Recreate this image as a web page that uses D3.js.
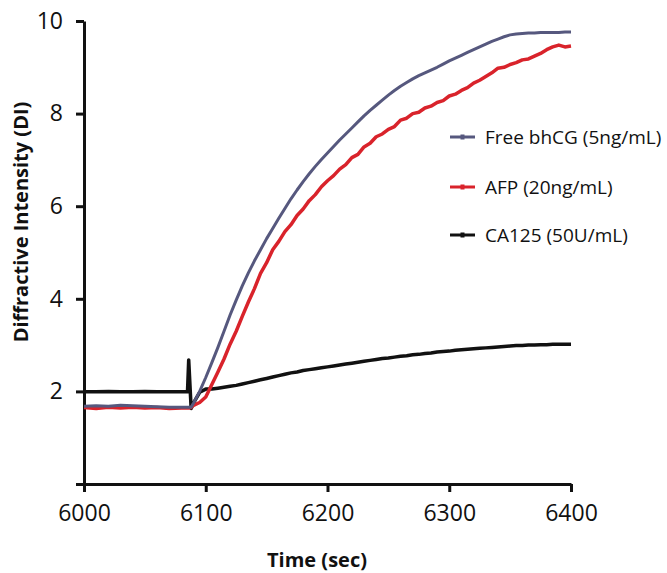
<!DOCTYPE html>
<meta charset="utf-8" />
<title>Diffractive Intensity vs Time - D3.js</title>
<style>
  body { margin: 0; background: #fff; }
  svg { display: block; background: #fff; }
  text { font-family: "Open Sans", sans-serif; fill: #111; }
  .axis path, .axis line { stroke: #111; stroke-width: 3px; }
  .axis text { font-size: 23px; }
  .axis-title { font-size: 20px; font-weight: bold; }
  .legend text { font-size: 19px; }
  .series { fill: none; stroke-linejoin: round; stroke-linecap: butt; }
</style>
<body>
<svg width="667" height="573"></svg>
<script src="https://d3js.org/d3.v7.min.js"></script>
<script>
const width = 667, height = 573;
const svg = d3.select("svg");

// time points (sec), shared by the three series
const time = [6000, 6010, 6020, 6030, 6040, 6050, 6060, 6070, 6080, 6085, 6086, 6088,
  6090, 6095, 6100, 6105, 6110, 6115, 6120, 6125, 6130, 6135, 6140, 6145, 6150,
  6155, 6160, 6165, 6170, 6175, 6180, 6185, 6190, 6195, 6200, 6205, 6210, 6215,
  6220, 6225, 6230, 6235, 6240, 6245, 6250, 6255, 6260, 6265, 6270, 6275, 6280,
  6285, 6290, 6295, 6300, 6305, 6310, 6315, 6320, 6325, 6330, 6335, 6340, 6345,
  6350, 6355, 6360, 6365, 6370, 6375, 6380, 6385, 6390, 6395, 6400];

// Free bhCG (5ng/mL)
const bhcg = [1.68, 1.69, 1.68, 1.70, 1.69, 1.68, 1.67, 1.66, 1.66, 1.66, 1.66, 1.66,
  1.75, 2.00, 2.30, 2.62, 2.95, 3.30, 3.65, 3.97, 4.28, 4.56, 4.82, 5.06, 5.30,
  5.52, 5.74, 5.95, 6.16, 6.35, 6.53, 6.70, 6.86, 7.01, 7.15, 7.29, 7.43, 7.56,
  7.69, 7.82, 7.95, 8.07, 8.18, 8.29, 8.40, 8.50, 8.59, 8.67, 8.75, 8.82, 8.88,
  8.94, 9.00, 9.07, 9.14, 9.20, 9.26, 9.32, 9.38, 9.44, 9.50, 9.56, 9.61, 9.66,
  9.70, 9.72, 9.73, 9.74, 9.74, 9.75, 9.75, 9.75, 9.75, 9.76, 9.76];

// AFP (20ng/mL)
const afp = [1.65, 1.63, 1.66, 1.64, 1.66, 1.64, 1.65, 1.63, 1.64, 1.64, 1.64, 1.65,
  1.70, 1.76, 1.88, 2.15, 2.42, 2.70, 3.02, 3.30, 3.62, 3.93, 4.22, 4.55, 4.78,
  5.06, 5.24, 5.45, 5.60, 5.80, 5.94, 6.12, 6.25, 6.42, 6.55, 6.66, 6.80, 6.90,
  7.05, 7.12, 7.28, 7.36, 7.50, 7.56, 7.66, 7.72, 7.86, 7.90, 8.00, 8.03, 8.12,
  8.16, 8.24, 8.28, 8.38, 8.42, 8.50, 8.56, 8.66, 8.72, 8.80, 8.88, 8.98, 9.00,
  9.06, 9.10, 9.16, 9.18, 9.24, 9.30, 9.38, 9.44, 9.48, 9.44, 9.46];

// CA125 (50U/mL)
const ca125 = [1.99, 1.99, 2.00, 1.99, 1.99, 2.00, 1.99, 1.99, 1.99, 1.99, 2.68, 1.63,
  1.75, 1.98, 2.05, 2.05, 2.07, 2.09, 2.11, 2.13, 2.16, 2.19, 2.22, 2.25, 2.28,
  2.31, 2.34, 2.37, 2.40, 2.42, 2.45, 2.47, 2.49, 2.51, 2.53, 2.55, 2.57, 2.59,
  2.61, 2.63, 2.65, 2.67, 2.69, 2.71, 2.72, 2.74, 2.76, 2.77, 2.79, 2.80, 2.82,
  2.83, 2.85, 2.86, 2.87, 2.89, 2.90, 2.91, 2.92, 2.93, 2.94, 2.95, 2.96, 2.97,
  2.98, 2.99, 2.99, 3.00, 3.00, 3.01, 3.01, 3.02, 3.02, 3.02, 3.02];

const xTicks = [6000, 6100, 6200, 6300, 6400];
const yTicks = [0, 2, 4, 6, 8, 10];

const series = [
  { name: "CA125 (50U/mL)", values: ca125, color: "#111111", width: 3.5 },
  { name: "AFP (20ng/mL)", values: afp, color: "#d9232b", width: 3.5 },
  { name: "Free bhCG (5ng/mL)", values: bhcg, color: "#56587e", width: 3 }
];
const legendOrder = ["Free bhCG (5ng/mL)", "AFP (20ng/mL)", "CA125 (50U/mL)"];

const x = d3.scaleLinear().domain([6000, 6400]).range([84, 571]);
const y = d3.scaleLinear().domain([0, 10]).range([484, 21]);

// axes
svg.append("g")
  .attr("class", "axis")
  .attr("transform", `translate(0,${y(0)})`)
  .call(d3.axisBottom(x).tickValues(xTicks).tickSize(8).tickSizeOuter(0).tickPadding(13).tickFormat(d3.format("d")));

svg.append("g")
  .attr("class", "axis")
  .attr("transform", `translate(${x(6000)},0)`)
  .call(d3.axisLeft(y).tickValues(yTicks).tickSize(8).tickSizeOuter(0).tickPadding(13)
    .tickFormat(d => d === 0 ? "" : d));

// lines
const line = d3.line()
  .x((d, i) => x(time[i]))
  .y(d => y(d));

svg.append("g").selectAll("path")
  .data(series).join("path")
  .attr("class", "series")
  .attr("stroke", d => d.color)
  .attr("stroke-width", d => d.width)
  .attr("d", d => line(d.values));

// legend
const legend = svg.append("g").attr("class", "legend")
  .selectAll("g")
  .data(legendOrder.map(n => series.find(s => s.name === n)))
  .join("g")
  .attr("transform", (d, i) => `translate(450,${[137, 187, 235][i]})`);

legend.append("line")
  .attr("x1", 0).attr("x2", 25)
  .attr("stroke", d => d.color)
  .attr("stroke-width", 3);

legend.append("rect")
  .attr("x", 10.5).attr("y", -2.5).attr("width", 4).attr("height", 5)
  .attr("fill", d => d.color);

legend.append("text")
  .attr("x", 35)
  .attr("dy", "0.35em")
  .text(d => d.name);

// axis titles
svg.append("text")
  .attr("class", "axis-title")
  .attr("text-anchor", "middle")
  .attr("x", 317).attr("y", 567)
  .text("Time (sec)");

svg.append("text")
  .attr("class", "axis-title")
  .attr("text-anchor", "middle")
  .attr("transform", "translate(28,222) rotate(-90)")
  .text("Diffractive Intensity (DI)");
</script>
</body>
